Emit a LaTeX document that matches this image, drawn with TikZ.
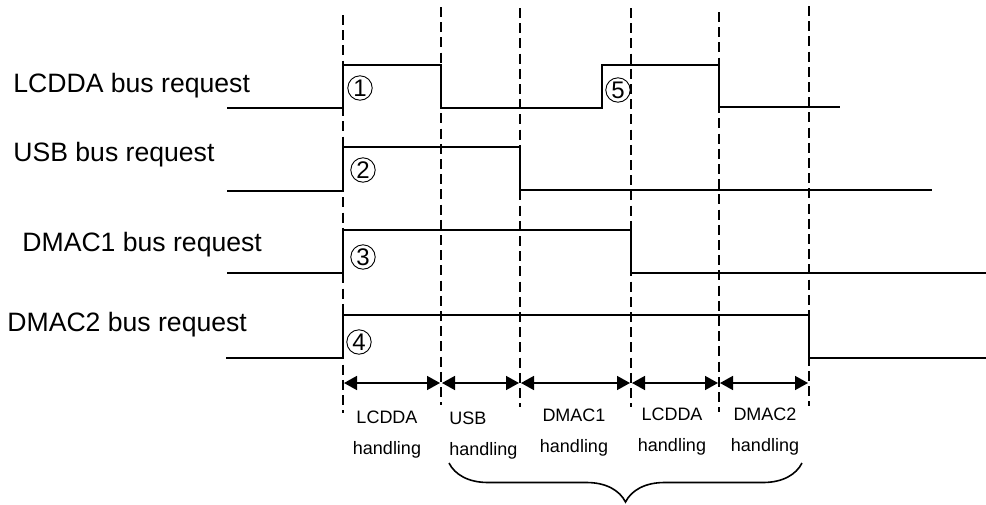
\documentclass[tikz,border=0pt]{standalone}
\usepackage{fontspec}
\setmainfont{Liberation Sans}
\usetikzlibrary{arrows.meta, decorations.pathreplacing}

\begin{document}
\begin{tikzpicture}[x=0.5pt, y=-0.5pt,
    sig/.style={line width=0.8pt, line join=miter},
    slot/.style={line width=0.9pt, dash pattern=on 5pt off 2.6pt},
    span/.style={{Triangle[length=6.5pt,width=7pt]}-{Triangle[length=6.5pt,width=7pt]}, line width=0.8pt, shorten <=0.5pt, shorten >=0.5pt},
    req/.style={font=\fontsize{13.3}{15}\selectfont, anchor=west, inner sep=0pt},
    num/.style={circle, draw, line width=0.45pt, inner sep=0pt, minimum size=12.2pt, font=\fontsize{12}{12}\selectfont},
    phase/.style={font=\fontsize{9}{15.5}\selectfont, align=center, inner sep=0pt}]
    \useasboundingbox (0,0) rectangle (986,504);
    % request labels
    \node[req] (rq1) at (13,86) {LCDDA bus request};
    \node[req] (rq2) at (13,155) {USB bus request};
    \node[req] (rq3) at (22,245) {DMAC1 bus request};
    \node[req] (rq4) at (7,325) {DMAC2 bus request};
    % waveforms
    \draw[sig] (227,108) -- (343,108) -- (343,65) -- (441,65) -- (441,108) -- (602,108) -- (602,65) -- (719,65) -- (719,107) -- (840,107);
    \draw[sig] (227,191) -- (343,191) -- (343,147) -- (520,147) -- (520,190) -- (932,190);
    \draw[sig] (227,273) -- (343,273) -- (343,230) -- (631,230) -- (631,273) -- (986,273);
    \draw[sig] (226,358) -- (343,358) -- (343,315) -- (809,315) -- (809,358) -- (986,358);
    % circled numbers
    \node[num] (n1) at (360,88) {1};
    \node[num] (n2) at (363,170) {2};
    \node[num] (n3) at (363,257) {3};
    \node[num] (n4) at (359,342) {4};
    \node[num] (n5) at (618,90) {5};
    % time slots
    \foreach \x/\a/\b in {343/15/413, 441/7/405, 520/8/407, 631/8/407, 719/12/412, 809/6/406}
        \draw[slot] (\x,\a) -- (\x,\b);
    \foreach \x [count=\i] in {343, 441, 520, 631, 719, 809}
        \coordinate (m\i) at (\x,383);
    \foreach \a/\b in {m1/m2, m2/m3, m3/m4, m4/m5, m5/m6} \draw[span] (\a) -- (\b);
    % handling labels
    \node[phase] (h1) at (387,435) {LCDDA\\handling};
    \node[phase, align=left, anchor=west] (h2) at (449,436) {USB\\handling};
    \node[phase] (h3) at (574,433) {DMAC1\\handling};
    \node[phase] (h4) at (672,432) {LCDDA\\handling};
    \node[phase] (h5) at (765,432) {DMAC2\\handling};
    % brace
    \coordinate (b1) at (449,463);
    \coordinate (b2) at (802,463);
    \draw[line width=0.8pt, decorate, decoration={brace, mirror, amplitude=19.5pt}] (b1) -- (b2);
\end{tikzpicture}
\end{document}
